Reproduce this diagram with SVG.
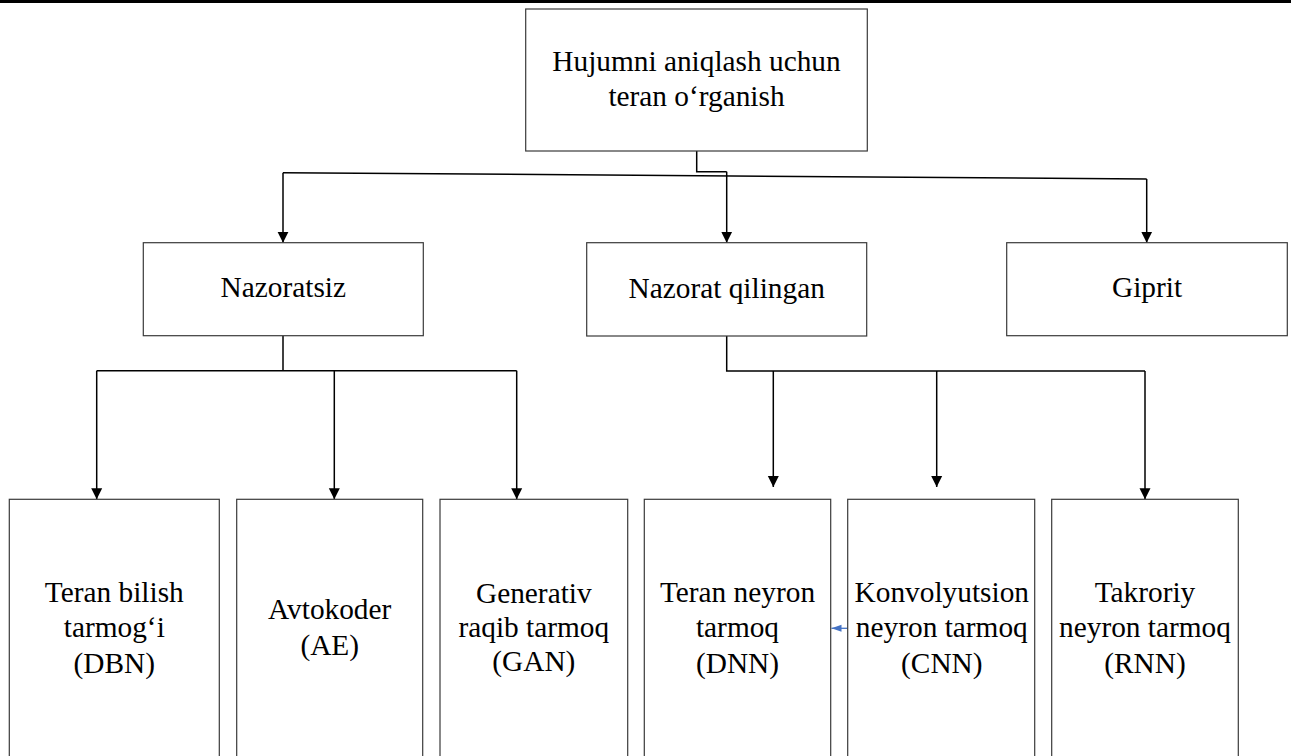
<svg xmlns="http://www.w3.org/2000/svg" width="1291" height="756" viewBox="0 0 1291 756">
<style>
.box{fill:#fff;stroke:#3a3a3a;stroke-width:1.2}
text{font-family:'Liberation Serif',serif;font-size:29.33px;fill:#000;text-anchor:middle}
.c{fill:none;stroke:#000;stroke-width:1.5}
.ca{fill:none;stroke:#000;stroke-width:1.5;marker-end:url(#ah)}
.cb{fill:none;stroke:#4472C4;stroke-width:1.3;marker-end:url(#ahb)}
</style>
<defs>
<marker id="ah" markerUnits="userSpaceOnUse" markerWidth="12" markerHeight="12" refX="11" refY="6" orient="auto">
<path d="M0,0.5 L11,6 L0,11.5 Z" fill="#000"/>
</marker>
<marker id="ahb" markerUnits="userSpaceOnUse" markerWidth="11" markerHeight="8" refX="10" refY="4" orient="auto">
<path d="M0,0.5 L10,4 L0,7.5 Z" fill="#4472C4"/>
</marker>
</defs>
<rect x="0" y="0" width="1291" height="3" fill="#000"/>
<g id="connectors">
<polyline class="c" points="696.7,151 696.7,171.7 726.7,171.7"/>
<line class="c" x1="283" y1="172.7" x2="1146.7" y2="179"/>
<polyline class="ca" points="283,172.7 283,242.7"/>
<polyline class="ca" points="726.7,171.7 726.7,242.7"/>
<polyline class="ca" points="1146.7,179 1146.7,242.7"/>
<polyline class="c" points="283,335.7 283,370.7"/>
<line class="c" x1="96.7" y1="370.7" x2="516.7" y2="370.7"/>
<polyline class="ca" points="96.7,370.7 96.7,499.3"/>
<polyline class="ca" points="334.3,370.7 334.3,499.3"/>
<polyline class="ca" points="516.7,370.7 516.7,499.3"/>
<polyline class="c" points="726.7,336 726.7,371 1145,371"/>
<polyline class="ca" points="773.3,371 773.3,487"/>
<polyline class="ca" points="936.7,371 936.7,487"/>
<polyline class="ca" points="1145,371 1145,499.3"/>
<line class="cb" x1="847.7" y1="628.3" x2="831.5" y2="628.3"/>
</g>
<g id="root">
<rect class="box" x="525.7" y="9" width="341.6" height="142"/>
<text x="696.5" y="71" font-family="Liberation Serif">Hujumni aniqlash uchun</text>
<text x="696.5" y="106" font-family="Liberation Serif">teran o‘rganish</text>
</g>
<g id="nazoratsiz">
<rect class="box" x="143.3" y="242.7" width="280" height="93"/>
<text x="283.3" y="297.3">Nazoratsiz</text>
</g>
<g id="nazorat-qilingan">
<rect class="box" x="586.7" y="242.7" width="280" height="93.3"/>
<text x="726.7" y="298">Nazorat qilingan</text>
</g>
<g id="giprit">
<rect class="box" x="1006.7" y="242.7" width="280.6" height="93"/>
<text x="1147" y="297.3">Giprit</text>
</g>
<g id="dbn">
<rect class="box" x="9.3" y="499.3" width="210" height="280"/>
<text x="114.3" y="601.7">Teran bilish</text>
<text x="114.3" y="637.3">tarmog‘i</text>
<text x="114.3" y="673">(DBN)</text>
</g>
<g id="ae">
<rect class="box" x="236.7" y="499.3" width="186" height="280"/>
<text x="329.7" y="619.3">Avtokoder</text>
<text x="329.7" y="655">(AE)</text>
</g>
<g id="gan">
<rect class="box" x="440" y="499.3" width="187.7" height="280"/>
<text x="533.8" y="603.3">Generativ</text>
<text x="533.8" y="637">raqib tarmoq</text>
<text x="533.8" y="670.5">(GAN)</text>
</g>
<g id="dnn">
<rect class="box" x="644.3" y="499.3" width="186.4" height="280"/>
<text x="737.5" y="601.7">Teran neyron</text>
<text x="737.5" y="636.7">tarmoq</text>
<text x="737.5" y="673">(DNN)</text>
</g>
<g id="cnn">
<rect class="box" x="847.7" y="499.3" width="187" height="280"/>
<text x="941.8" y="601.7">Konvolyutsion</text>
<text x="941.8" y="636.7">neyron tarmoq</text>
<text x="941.8" y="673">(CNN)</text>
</g>
<g id="rnn">
<rect class="box" x="1051.7" y="499.3" width="186.6" height="280"/>
<text x="1145" y="601.7">Takroriy</text>
<text x="1145" y="636.7">neyron tarmoq</text>
<text x="1145" y="673">(RNN)</text>
</g>
</svg>
